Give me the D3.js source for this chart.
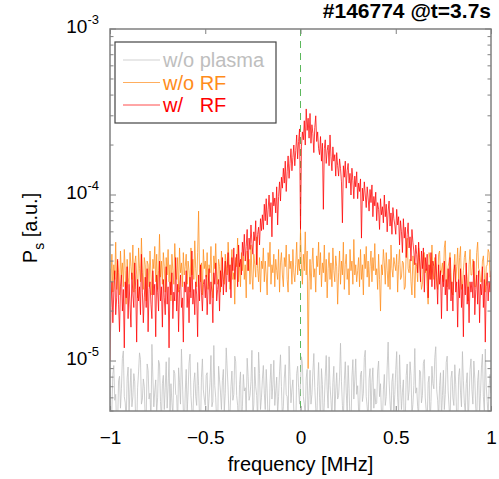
<!DOCTYPE html>
<html>
<head>
<meta charset="utf-8">
<script src="https://cdn.jsdelivr.net/npm/d3@7"></script>
<style>
  body { margin: 0; background: #fff; }
  text { font-family: "Liberation Sans", Arial, sans-serif; }
</style>
</head>
<body>
<div id="chart"></div>
<script>
//Size of the picture and of the plotting box.
let w = 499
let h = 479
let box = {left: 110, right: 491, top: 29, bottom: 411}

//Frequency grid of the spectra, MHz (one sample each 0.005 MHz, -1 to 1).
let freq = d3.range(401).map(i => -1 + i * 0.005)

//Spectral power, in units of 1e-6 a.u. (20 samples per line = 0.1 MHz).
let noPlasma = [
  7.2, 4.6, 5.1, 8.3, 9.4, 5.8, 6.3, 3.9, 4.2, 7.6, 8.1, 5.2, 6.8, 10.4, 11.5, 6.1, 5.6, 4.3, 7.9, 9.2,
  4.8, 6.7, 9.0, 5.3, 6.1, 8.4, 7.5, 4.1, 3.9, 6.9, 8.6, 11.2, 10.2, 5.5, 5.9, 7.8, 7.0, 4.4, 4.5, 9.6,
  8.8, 5.9, 6.4, 4.2, 12.6, 8.0, 5.3, 6.6, 7.7, 4.9, 6.0, 10.1, 9.6, 5.7, 4.4, 7.3, 8.2, 5.1, 6.9, 9.9,
  5.2, 7.0, 10.5, 4.7, 7.3, 5.6, 4.7, 8.8, 8.4, 6.3, 6.2, 4.0, 9.1, 7.4, 5.5, 11.8, 7.8, 5.0, 3.8, 6.5,
  8.9, 4.8, 6.6, 9.7, 11.0, 6.2, 5.0, 4.3, 7.4, 8.5, 6.1, 5.4, 9.8, 7.1, 4.6, 3.7, 8.0, 10.3, 6.7, 5.9,
  5.4, 8.2, 8.5, 4.9, 6.0, 7.4, 10.8, 5.3, 5.7, 12.4, 7.1, 6.0, 4.3, 3.9, 9.3, 7.7, 6.5, 5.1, 7.6, 8.9,
  5.0, 6.4, 12.0, 9.1, 6.8, 4.5, 4.9, 7.0, 8.7, 5.8, 6.3, 10.7, 9.9, 6.2, 5.4, 4.0, 7.2, 8.6, 4.1, 5.3,
  8.3, 6.6, 6.9, 4.7, 10.4, 8.1, 5.8, 6.2, 7.5, 11.6, 4.6, 5.5, 9.2, 7.0, 6.2, 4.3, 11.3, 8.4, 5.1, 6.0,
  7.8, 9.4, 6.4, 5.1, 8.9, 6.6, 4.4, 3.8, 7.3, 9.6, 5.9, 7.2, 10.1, 5.4, 6.6, 8.0, 4.8, 6.1, 8.6, 10.9,
  7.0, 4.5, 5.3, 7.9, 9.5, 6.3, 6.1, 4.2, 12.3, 8.1, 5.6, 6.8, 7.7, 5.0, 4.2, 3.8, 8.4, 9.3, 6.9, 5.5,
  7.4, 10.6, 9.7, 6.1, 5.5, 4.6, 7.9, 8.9, 4.5, 6.2, 8.8, 5.5, 6.3, 8.6, 11.1, 6.9, 5.2, 4.1, 7.0, 9.8,
  6.0, 4.4, 9.0, 7.2, 4.0, 5.6, 8.1, 10.8, 6.7, 5.2, 10.6, 7.1, 5.8, 4.5, 7.4, 9.3, 4.7, 6.6, 8.5, 5.9,
  6.2, 8.0, 12.8, 7.5, 5.4, 4.3, 7.6, 9.9, 6.5, 5.0, 9.4, 6.8, 4.3, 3.9, 8.0, 10.2, 5.9, 7.7, 10.3, 6.3,
  7.1, 5.0, 4.9, 8.3, 8.7, 5.7, 6.4, 10.5, 11.6, 6.1, 5.3, 4.4, 7.8, 9.0, 4.6, 7.4, 9.1, 5.2, 6.8, 5.5,
  5.6, 8.7, 10.0, 6.1, 7.3, 4.8, 4.2, 6.7, 8.3, 5.4, 6.1, 9.2, 13.0, 7.6, 5.7, 4.6, 7.5, 8.4, 4.8, 6.3,
  8.9, 11.4, 6.0, 4.9, 10.9, 7.2, 5.1, 6.5, 7.7, 4.0, 4.4, 8.2, 9.6, 5.8, 6.6, 9.9, 8.2, 4.7, 5.5, 7.1,
  11.9, 6.4, 6.9, 5.3, 4.7, 8.8, 8.6, 5.6, 6.2, 9.7, 10.2, 6.0, 5.0, 4.3, 7.4, 8.1, 4.1, 5.7, 9.3, 7.3,
  6.8, 10.5, 12.2, 6.7, 5.8, 4.4, 7.1, 8.5, 4.6, 6.2, 8.8, 5.1, 6.3, 9.8, 10.7, 6.6, 5.3, 4.2, 7.9, 8.7,
  6.0, 5.4, 9.5, 7.2, 4.5, 3.9, 8.1, 9.0, 6.5, 5.3, 11.4, 7.6, 5.6, 4.9, 7.3, 8.5, 4.2, 6.0, 8.9, 10.3,
  6.7, 5.5, 10.0, 7.8, 5.2, 4.4, 7.6, 8.8, 4.8, 6.4, 9.2, 11.0, 6.1, 5.0, 11.8, 7.0, 5.7, 4.6, 7.0, 8.3,
  6.4
]

let noRF = [
  36, 30, 44, 26, 38, 31, 52, 27, 40, 34, 25, 46, 33, 39, 28, 47, 35, 22, 41, 32,
  29, 45, 37, 31, 50, 26, 39, 43, 33, 24, 48, 36, 30, 55, 34, 27, 42, 38, 23, 40,
  38, 28, 46, 33, 25, 41, 36, 49, 30, 44, 27, 35, 58, 32, 40, 29, 45, 37, 26, 42,
  33, 47, 30, 38, 23, 44, 35, 29, 51, 36, 31, 42, 26, 48, 34, 39, 28, 45, 33, 37,
  44, 29, 40, 35, 26, 48, 33, 41, 31, 53, 36, 28, 45, 80, 34, 30, 39, 25, 47, 36,
  40, 32, 45, 27, 38, 34, 49, 30, 24, 43, 36, 51, 33, 29, 41, 37, 26, 46, 35, 31,
  29, 44, 38, 33, 52, 40, 27, 36, 47, 31, 34, 22, 42, 37, 55, 30, 39, 28, 45, 35,
  43, 31, 38, 24, 46, 35, 41, 29, 50, 33, 27, 44, 38, 32, 56, 36, 30, 42, 26, 40,
  36, 48, 30, 40, 33, 25, 45, 37, 52, 29, 38, 34, 44, 28, 41, 35, 31, 47, 26, 39,
  45, 33, 28, 42, 37, 50, 31, 26, 44, 36, 40, 29, 47, 34, 30, 38, 52, 33, 41, 35,
  62, 38, 29, 44, 35, 60, 33, 46, 9, 30, 41, 27, 38, 48, 32, 36, 26, 43, 37, 52,
  33, 45, 28, 39, 34, 50, 30, 41, 24, 36, 45, 31, 39, 28, 48, 35, 30, 43, 37, 22,
  34, 46, 29, 40, 33, 52, 27, 38, 44, 31, 36, 25, 47, 35, 40, 29, 54, 33, 38, 30,
  35, 42, 28, 47, 31, 38, 25, 44, 36, 49, 32, 40, 28, 37, 46, 30, 42, 35, 51, 33,
  36, 27, 44, 31, 20, 38, 33, 47, 39, 29, 45, 35, 28, 41, 27, 50, 36, 32, 42, 38,
  35, 44, 26, 38, 47, 31, 32, 40, 39, 27, 28, 46, 55, 36, 34, 41, 30, 25, 43, 37,
  24, 39, 37, 30, 48, 42, 33, 27, 29, 44, 45, 34, 36, 28, 22, 45, 41, 31, 50, 36,
  31, 42, 38, 29, 27, 44, 46, 33, 35, 39, 30, 48, 53, 31, 28, 37, 40, 45, 34, 26,
  25, 36, 44, 30, 37, 48, 31, 42, 49, 27, 29, 35, 42, 46, 36, 31, 23, 38, 47, 33,
  33, 41, 39, 28, 28, 45, 52, 36, 35, 30, 30, 40, 43, 34, 26, 37, 38, 47, 45, 32,
  33
]

let withRF = [
  10, 21, 30, 17, 26, 35, 19, 24, 41, 22, 15, 28, 33, 20, 27, 12, 30, 24, 37, 18,
  29, 22, 16, 34, 25, 21, 39, 27, 13, 31, 23, 28, 19, 44, 26, 17, 24, 32, 21, 36,
  15, 27, 30, 22, 18, 35, 25, 29, 14, 33, 26, 20, 40, 23, 28, 16, 31, 24, 19, 37,
  22, 28, 12, 30, 25, 34, 18, 26, 23, 42, 20, 29, 15, 27, 33, 21, 24, 13, 30, 26,
  35, 21, 28, 17, 32, 24, 46, 22, 27, 19, 30, 25, 14, 33, 23, 38, 26, 20, 29, 31,
  24, 33, 19, 28, 36, 22, 30, 26, 17, 34, 29, 39, 23, 27, 31, 20, 35, 28, 42, 25,
  33, 40, 26, 36, 45, 30, 38, 24, 42, 35, 48, 31, 39, 44, 28, 50, 37, 41, 33, 52,
  43, 58, 40, 49, 62, 35, 55, 47, 66, 51, 44, 60, 53, 70, 38, 58, 64, 50, 72, 61,
  76, 62, 88, 70, 95, 66, 82, 100, 74, 90, 56, 104, 86, 96, 78, 112, 66, 98, 120, 92,
  128, 110, 145, 118, 160, 105, 138, 172, 126, 155, 190, 140, 168, 200, 150, 185, 230, 165, 210, 250,
  62, 195, 240, 215, 280, 200, 330, 245, 290, 220, 310, 205, 265, 235, 180, 255, 300, 210, 240, 190,
  175, 225, 160, 205, 82, 190, 215, 155, 185, 200, 150, 230, 170, 140, 195, 160, 175, 130, 180, 150,
  130, 165, 145, 120, 68, 150, 128, 160, 110, 140, 155, 118, 135, 100, 145, 122, 95, 130, 112, 138,
  95, 118, 105, 125, 55, 110, 92, 120, 100, 84, 112, 96, 80, 108, 90, 115, 74, 98, 86, 104,
  70, 90, 82, 62, 95, 76, 85, 68, 100, 74, 88, 60, 80, 92, 65, 78, 58, 84, 72, 66,
  58, 82, 66, 74, 50, 70, 60, 45, 72, 55, 64, 42, 58, 68, 48, 56, 40, 62, 52, 46,
  38, 50, 44, 34, 52, 40, 30, 46, 36, 48, 26, 42, 35, 44, 24, 38, 31, 45, 28, 40,
  37, 27, 44, 32, 22, 38, 29, 35, 18, 33, 28, 40, 25, 31, 20, 36, 27, 42, 23, 30,
  20, 34, 38, 26, 30, 16, 31, 24, 36, 21, 29, 14, 33, 25, 39, 22, 28, 17, 30, 26,
  30, 24, 40, 19, 27, 33, 22, 35, 17, 29, 25, 37, 21, 31, 13, 28, 34, 23, 30, 26,
  35
]

//Series names and colours, in drawing order.
let seriesNames = ["w/o plasma", "w/o RF", "w/   RF"]
let seriesColors = ["#bebebe", "#ff8c1a", "#ff0000"]
let seriesValues = [noPlasma, noRF, withRF]

//Tick values of the axes.
let xTicks = [-1, -0.5, 0, 0.5, 1]
let yDecades = [1e-5, 1e-4, 1e-3]
let yExponents = ["-5", "-4", "-3"]

const svg = d3.select("#chart")
              .append("svg")
              .attr("width", w)
              .attr("height", h)

let x = d3.scaleLinear().domain([-1, 1]).range([box.left, box.right])
let y = d3.scaleLog().domain([5e-6, 1e-3]).range([box.bottom, box.top])

svg.append("clipPath")
   .attr("id", "plotClip")
   .append("rect")
   .attr("x", box.left)
   .attr("y", box.top)
   .attr("width", box.right - box.left)
   .attr("height", box.bottom - box.top)

const plot = svg.append("g").attr("clip-path", "url(#plotClip)")

//Dashed marker at zero frequency.
plot.append("line")
    .attr("x1", x(0)).attr("x2", x(0))
    .attr("y1", box.top).attr("y2", box.bottom)
    .attr("stroke", "#5cb85c")
    .attr("stroke-width", 1)
    .attr("stroke-dasharray", "7,5")

//The three spectra.
let line = d3.line()
             .x((d, i) => x(freq[i]))
             .y(d => y(d * 1e-6))

plot.selectAll("path.spec")
    .data(seriesValues)
    .enter()
    .append("path")
    .attr("class", "spec")
    .attr("d", line)
    .attr("fill", "none")
    .attr("stroke", (d, i) => seriesColors[i])
    .attr("stroke-width", 0.75)

//Frame of the axes.
const frameColor = "#808080"
svg.append("rect")
   .attr("x", box.left)
   .attr("y", box.top)
   .attr("width", box.right - box.left)
   .attr("height", box.bottom - box.top)
   .attr("fill", "none")
   .attr("stroke", frameColor)
   .attr("stroke-width", 1.5)

//X ticks on top and bottom, pointing inward.
let xAxisBottom = d3.axisBottom(x).tickValues(xTicks).tickSizeInner(-5).tickSizeOuter(0).tickPadding(20)
                    .tickFormat(d => d3.format("")(d))
let xAxisTop = d3.axisTop(x).tickValues(xTicks).tickSizeInner(-5).tickSizeOuter(0).tickFormat("")

let gxb = svg.append("g").attr("transform", "translate(0," + box.bottom + ")").call(xAxisBottom)
svg.append("g").attr("transform", "translate(0," + box.top + ")").call(xAxisTop)
   .call(g => g.select(".domain").remove())
gxb.select(".domain").remove()
gxb.selectAll(".tick text")
   .attr("fill", "#000")
   .style("font-size", "19px")
   .style("font-family", '"Liberation Sans", Arial, sans-serif')
svg.selectAll(".tick line").attr("stroke", frameColor)

//Y ticks on left and right: decades long, the rest short.
let yTickVals = y.ticks()
let isDecade = v => yDecades.some(d => Math.abs(d - v) / d < 1e-6)
;[box.left, box.right].forEach((x0, side) => {
  svg.append("g").selectAll("line")
     .data(yTickVals)
     .enter()
     .append("line")
     .attr("x1", x0)
     .attr("x2", d => x0 + (side === 0 ? 1 : -1) * (isDecade(d) ? 6 : 3.5))
     .attr("y1", d => y(d))
     .attr("y2", d => y(d))
     .attr("stroke", frameColor)
     .attr("stroke-width", 1)
})

//Y tick labels as 10 with a superscript exponent.
let ylab = svg.append("g").selectAll("text")
              .data(yDecades)
              .enter()
              .append("text")
              .attr("x", 99)
              .attr("y", d => y(d) + 4)
              .attr("text-anchor", "end")
              .style("font-size", "19px")
ylab.append("tspan").text("10")
ylab.append("tspan")
    .attr("dy", -9)
    .style("font-size", "13px")
    .text((d, i) => yExponents[i])

//Axis titles.
svg.append("text")
   .attr("x", (box.left + box.right) / 2)
   .attr("y", 471)
   .attr("text-anchor", "middle")
   .style("font-size", "20px")
   .text("frequency [MHz]")

let ytitle = svg.append("text")
                .attr("transform", "translate(37,228) rotate(-90)")
                .attr("text-anchor", "middle")
                .style("font-size", "20px")
ytitle.append("tspan").text("P")
ytitle.append("tspan").attr("dy", 7).style("font-size", "14px").text("s")
ytitle.append("tspan").attr("dy", -7).text(" [a.u.]")

//Title in the top right corner.
svg.append("text")
   .attr("x", 491)
   .attr("y", 18)
   .attr("text-anchor", "end")
   .style("font-size", "21px")
   .style("font-weight", "bold")
   .text("#146774 @t=3.7s")

//Legend box.
const legend = svg.append("g")
legend.append("rect")
      .attr("x", 115).attr("y", 42)
      .attr("width", 161).attr("height", 81)
      .attr("fill", "#fff")
      .attr("stroke", "#444")
      .attr("stroke-width", 1.2)

let rows = legend.selectAll("g.row")
                 .data(seriesNames)
                 .enter()
                 .append("g")
                 .attr("class", "row")
                 .attr("transform", (d, i) => "translate(0," + (60 + i * 22.5) + ")")
rows.append("line")
    .attr("x1", 123).attr("x2", 160)
    .attr("y1", 0).attr("y2", 0)
    .attr("stroke", (d, i) => seriesColors[i])
    .attr("stroke-opacity", 0.7)
rows.append("text")
    .attr("x", 163)
    .attr("y", 7)
    .style("font-size", "20px")
    .style("white-space", "pre")
    .attr("fill", (d, i) => seriesColors[i])
    .text(d => d)
</script>
</body>
</html>
